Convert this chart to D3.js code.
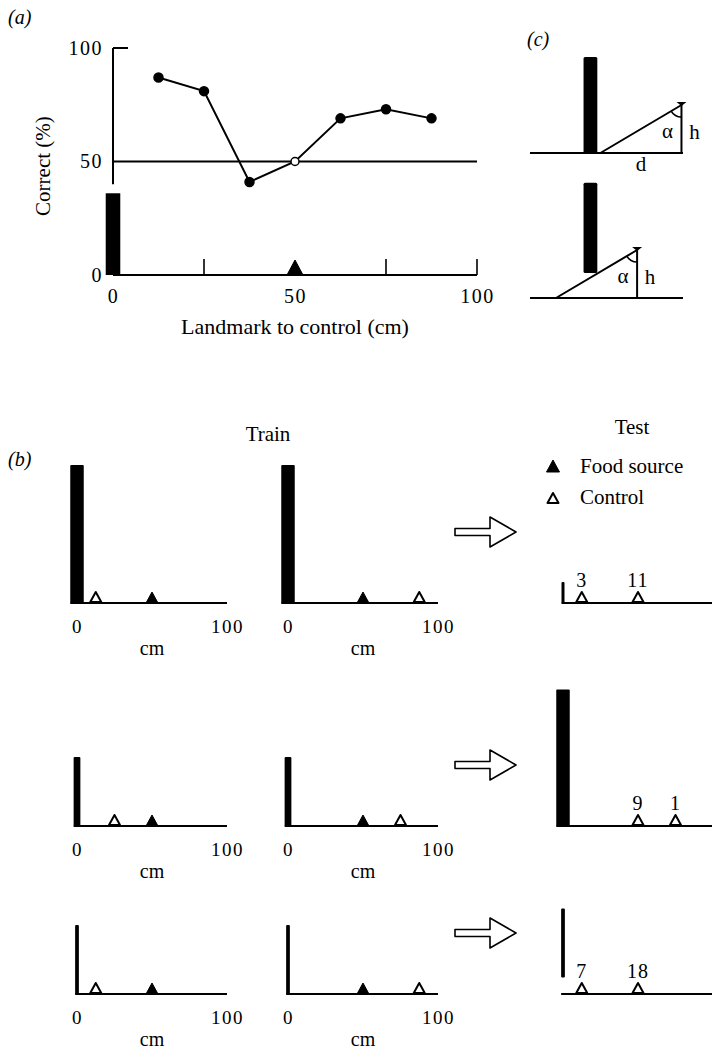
<!DOCTYPE html>
<html>
<head>
<meta charset="utf-8">
<script src="https://cdn.jsdelivr.net/npm/d3@7/dist/d3.min.js"></script>
<style>
  body { margin: 0; background: #fff; }
</style>
</head>
<body>
<div id="chart"></div>
<script>
// ---- panel (a): % correct against landmark-to-control distance
const aPositions = [12.5, 25, 37.5, 50, 62.5, 75, 87.5];
const aCorrect = [87, 81, 41, 50, 69, 73, 69];
const aFoodSource = 50;
const aChance = 50;
const aYTicks = [0, 50, 100];
const aXTicks = [0, 50, 100];
const aMinorTicks = [25, 75, 100];
const aLandmarkHeight = 36;
const aLandmarkWidth = 4;

// ---- panel (b): training and test arrays (cm along the baseline)
const trainFood = [[50, 50], [50, 50], [50, 50]];
const trainControl = [[12.5, 87.5], [25, 75], [12.5, 87.5]];
const trainLandmarkHeight = [92, 46, 46];
const trainLandmarkWidth = [9, 4.5, 2.5];
const testControl = [[12.5, 50], [50, 75], [12.5, 50]];
const testChoices = [[3, 11], [9, 1], [7, 18]];
const testLandmarkBase = [0, 0, 11];
const testLandmarkTop = [14, 91, 57];
const testLandmarkWidth = [2, 9, 2.5];
const bTicks = [0, 100];

// ---- panel (c): geometry of the retinal angle (arbitrary units)
const cLandmarkX = [35, 44];
const cLandmarkUpper = [0, 100];
const cLandmarkLower = [26, 120];
const cEyeX = [99, 70];
const cEyeH = 50;
const cDistance = 53;

const SERIF = '"Liberation Serif", "DejaVu Serif", "Times New Roman", serif';
const W = 712, H = 1052;
const svg = d3.select("#chart").append("svg")
  .attr("width", W).attr("height", H);

function tri(cx, by, w, h) {
  return `M${cx - w / 2},${by}L${cx},${by - h}L${cx + w / 2},${by}Z`;
}

function styleAxis(g, size) {
  g.select(".domain").remove();
  g.attr("font-family", null).attr("font-size", null);
  g.selectAll("text")
    .attr("font-size", size)
    .style("letter-spacing", "1.5px");
}

// ================= panel (a)
const ax = d3.scaleLinear().domain([0, 100]).range([113, 477]);
const ay = d3.scaleLinear().domain([0, 100]).range([275, 48]);
const pa = svg.append("g");

pa.append("text").attr("x", 8).attr("y", 24)
  .attr("font-size", 20).attr("font-style", "italic").text("(a)");

// y axis stub
pa.append("line")
  .attr("x1", ax(0)).attr("x2", ax(0))
  .attr("y1", ay(100)).attr("y2", ay(40))
  .attr("stroke", "#000").attr("stroke-width", 2);
pa.append("line")
  .attr("x1", ax(0)).attr("x2", ax(0) + 15)
  .attr("y1", ay(100)).attr("y2", ay(100))
  .attr("stroke", "#000").attr("stroke-width", 2);

// chance line
pa.append("line")
  .attr("x1", ax(0)).attr("x2", ax(100))
  .attr("y1", ay(aChance)).attr("y2", ay(aChance))
  .attr("stroke", "#000").attr("stroke-width", 2);

// landmark
pa.append("rect")
  .attr("x", ax(-aLandmarkWidth / 2))
  .attr("width", ax(aLandmarkWidth / 2) - ax(-aLandmarkWidth / 2))
  .attr("y", ay(aLandmarkHeight))
  .attr("height", ay(0) - ay(aLandmarkHeight))
  .attr("fill", "#000");

// baseline + upward ticks
pa.append("line")
  .attr("x1", ax(0)).attr("x2", ax(100))
  .attr("y1", ay(0)).attr("y2", ay(0))
  .attr("stroke", "#000").attr("stroke-width", 2);
pa.selectAll(".mtick").data(aMinorTicks).enter().append("line")
  .attr("x1", d => ax(d)).attr("x2", d => ax(d))
  .attr("y1", ay(0)).attr("y2", ay(0) - 16)
  .attr("stroke", "#000").attr("stroke-width", 1.6);

// food source
pa.append("path")
  .attr("d", tri(ax(aFoodSource), ay(0), 16, 15))
  .attr("fill", "#000").attr("stroke", "#000").attr("stroke-linejoin", "round");

// axes labels via d3 axes
pa.append("g").attr("transform", `translate(${ax(0)},0)`)
  .call(d3.axisLeft(ay).tickValues(aYTicks).tickSize(0).tickPadding(10))
  .call(g => styleAxis(g, 20));
pa.append("g").attr("transform", `translate(0,${ay(0)})`)
  .call(d3.axisBottom(ax).tickValues(aXTicks).tickSize(0).tickPadding(14))
  .call(g => styleAxis(g, 20));

pa.append("text")
  .attr("transform", `translate(50,${ay(48)}) rotate(-90)`)
  .attr("text-anchor", "middle").attr("font-size", 21)
  .text("Correct (%)");
pa.append("text")
  .attr("x", ax(50)).attr("y", 334)
  .attr("text-anchor", "middle").attr("font-size", 22)
  .text("Landmark to control (cm)");

// data line
const aData = aPositions.map((p, i) => ({ x: p, y: aCorrect[i] }));
pa.append("path").datum(aData)
  .attr("d", d3.line().x(d => ax(d.x)).y(d => ay(d.y)))
  .attr("fill", "none").attr("stroke", "#000").attr("stroke-width", 2);
pa.selectAll(".pt").data(aData).enter().append("circle")
  .attr("cx", d => ax(d.x)).attr("cy", d => ay(d.y))
  .attr("r", d => d.x === aFoodSource ? 4 : 4.5)
  .attr("fill", d => d.x === aFoodSource ? "#fff" : "#000")
  .attr("stroke", "#000").attr("stroke-width", 1.5);

// ================= panel (c)
const pc = svg.append("g");
pc.append("text").attr("x", 527).attr("y", 46)
  .attr("font-size", 20).attr("font-style", "italic").text("(c)");

const cx = d3.scaleLinear().domain([0, 100]).range([530, 683]);
const cYs = [
  d3.scaleLinear().domain([0, 100]).range([153, 57]),
  d3.scaleLinear().domain([0, 100]).range([298, 202])
];
const cLandmarks = [cLandmarkUpper, cLandmarkLower];

cYs.forEach((cy, i) => {
  const g = pc.append("g");
  const lm = cLandmarks[i];
  const ex = cEyeX[i];
  g.append("line")
    .attr("x1", cx(0)).attr("x2", cx(100))
    .attr("y1", cy(0)).attr("y2", cy(0))
    .attr("stroke", "#000").attr("stroke-width", 2);
  g.append("rect")
    .attr("x", cx(cLandmarkX[0])).attr("width", cx(cLandmarkX[1]) - cx(cLandmarkX[0]))
    .attr("y", cy(lm[1])).attr("height", cy(lm[0]) - cy(lm[1]))
    .attr("rx", 1.5).attr("fill", "#000");
  // line of sight and height
  const x0 = cx(ex - cDistance), y0 = cy(0);
  const x1 = cx(ex), y1 = cy(cEyeH);
  g.append("line").attr("x1", x0).attr("y1", y0).attr("x2", x1).attr("y2", y1)
    .attr("stroke", "#000").attr("stroke-width", 2);
  g.append("line").attr("x1", x1).attr("y1", y1).attr("x2", x1).attr("y2", cy(0))
    .attr("stroke", "#000").attr("stroke-width", 2);
  // little bee marker
  g.append("path")
    .attr("d", `M${x1 - 5},${y1 - 3}L${x1 + 5},${y1 - 3}L${x1},${y1 + 1}Z`)
    .attr("fill", "#000");
  // angle arc
  const ang = Math.atan2(x0 - x1, -(y0 - y1));
  g.append("path")
    .attr("transform", `translate(${x1},${y1})`)
    .attr("d", d3.arc().innerRadius(12).outerRadius(12)
      .startAngle(Math.PI).endAngle(ang < 0 ? ang + 2 * Math.PI : ang)())
    .attr("fill", "none").attr("stroke", "#000").attr("stroke-width", 1.6);
  g.append("text").attr("x", x1 - 14).attr("y", y1 + 33)
    .attr("text-anchor", "middle").attr("font-size", 21).text("α");
  g.append("text").attr("x", x1 + 13).attr("y", y1 + 34)
    .attr("text-anchor", "middle").attr("font-size", 21).text("h");
  if (i === 0) {
    g.append("text").attr("x", (x0 + x1) / 2).attr("y", cy(0) + 18)
      .attr("text-anchor", "middle").attr("font-size", 21).text("d");
  }
});

// ================= panel (b)
const pb = svg.append("g");
pb.append("text").attr("x", 8).attr("y", 466)
  .attr("font-size", 20).attr("font-style", "italic").text("(b)");
pb.append("text").attr("x", 268).attr("y", 441)
  .attr("text-anchor", "middle").attr("font-size", 21).text("Train");
pb.append("text").attr("x", 632).attr("y", 434)
  .attr("text-anchor", "middle").attr("font-size", 21).text("Test");

// legend
pb.append("path").attr("d", tri(553, 472, 13, 12))
  .attr("fill", "#000").attr("stroke", "#000").attr("stroke-linejoin", "round");
pb.append("text").attr("x", 580).attr("y", 473).attr("font-size", 21).text("Food source");
pb.append("path").attr("d", tri(553, 503, 11, 10))
  .attr("fill", "#fff").attr("stroke", "#000").attr("stroke-width", 2)
  .attr("stroke-linejoin", "round");
pb.append("text").attr("x", 580).attr("y", 504).attr("font-size", 21).text("Control");

const rowBase = [603, 826, 994];
const arrowY = [532, 765, 933];
const trainRanges = [[77, 227], [288, 438]];
const testRange = [563, 713];
const by = d3.scaleLinear().domain([0, 100]).range([0, 150]);

function drawStrip(g, x, base, lmBottom, lmTop, lmW, food, controls) {
  g.append("line")
    .attr("x1", x(-lmW / 2)).attr("x2", x(100))
    .attr("y1", base).attr("y2", base)
    .attr("stroke", "#000").attr("stroke-width", 2);
  g.append("rect")
    .attr("x", x(-lmW / 2)).attr("width", x(lmW / 2) - x(-lmW / 2))
    .attr("y", base - by(lmTop)).attr("height", by(lmTop) - by(lmBottom))
    .attr("rx", 1).attr("fill", "#000");
  g.selectAll(".food").data(food).enter().append("path")
    .attr("d", d => tri(x(d), base, 12, 11))
    .attr("fill", "#000").attr("stroke", "#000").attr("stroke-linejoin", "round");
  g.selectAll(".ctrl").data(controls).enter().append("path")
    .attr("d", d => tri(x(d), base - 1, 11, 10))
    .attr("fill", "#fff").attr("stroke", "#000").attr("stroke-width", 2)
    .attr("stroke-linejoin", "round");
}

rowBase.forEach((base, r) => {
  trainRanges.forEach((rng, c) => {
    const x = d3.scaleLinear().domain([0, 100]).range(rng);
    const g = pb.append("g");
    drawStrip(g, x, base, 0, trainLandmarkHeight[r], trainLandmarkWidth[r],
      [trainFood[r][c]], [trainControl[r][c]]);
    g.append("g").attr("transform", `translate(0,${base})`)
      .call(d3.axisBottom(x).tickValues(bTicks).tickSize(0).tickPadding(17))
      .call(a => styleAxis(a, 19));
    g.append("text").attr("x", x(50)).attr("y", base + 52)
      .attr("text-anchor", "middle").attr("font-size", 20).text("cm");
  });

  // open arrow
  const ay0 = arrowY[r];
  pb.append("path")
    .attr("d", `M455,${ay0 - 3.5}L490,${ay0 - 3.5}L490,${ay0 - 15}L516,${ay0}` +
      `L490,${ay0 + 15}L490,${ay0 + 3.5}L455,${ay0 + 3.5}Z`)
    .attr("fill", "#fff").attr("stroke", "#000").attr("stroke-width", 1.6)
    .attr("stroke-linejoin", "round");

  // test strip
  const tx = d3.scaleLinear().domain([0, 100]).range(testRange);
  const tg = pb.append("g");
  drawStrip(tg, tx, base, testLandmarkBase[r], testLandmarkTop[r], testLandmarkWidth[r],
    [], testControl[r]);
  tg.selectAll(".cnt").data(testControl[r]).enter().append("text")
    .attr("x", d => tx(d)).attr("y", base - 16)
    .attr("text-anchor", "middle").attr("font-size", 20)
    .style("letter-spacing", "1px")
    .text((d, i) => testChoices[r][i]);
});

// every label in the serif face of the original figure
svg.selectAll("text").style("font-family", SERIF).attr("fill", "#000");
</script>
</body>
</html>
